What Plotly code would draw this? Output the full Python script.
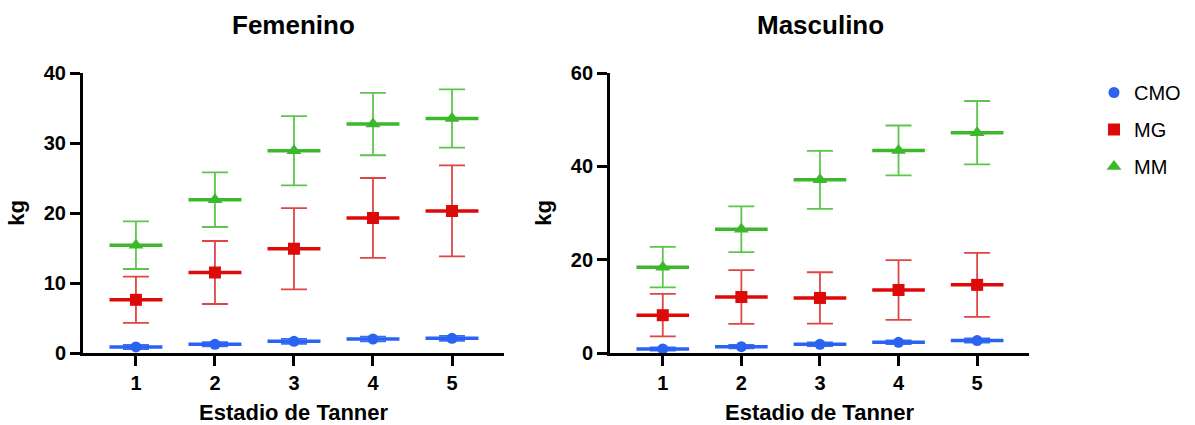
import plotly.graph_objects as go
from plotly.subplots import make_subplots

stages = [1, 2, 3, 4, 5]
series = ["CMO", "MG", "MM"]

# Femenino
fem_cmo = [0.86, 1.24, 1.67, 2.0, 2.1]
fem_cmo_sd = [0.3, 0.3, 0.35, 0.35, 0.35]
fem_mg = [7.6, 11.5, 14.9, 19.3, 20.3]
fem_mg_sd = [3.3, 4.5, 5.8, 5.7, 6.5]
fem_mm = [15.4, 21.9, 28.9, 32.7, 33.5]
fem_mm_sd = [3.4, 3.9, 4.95, 4.45, 4.15]

# Masculino
mas_cmo = [0.86, 1.36, 1.87, 2.3, 2.66]
mas_cmo_sd = [0.35, 0.35, 0.4, 0.4, 0.45]
mas_mg = [8.1, 12.0, 11.8, 13.5, 14.6]
mas_mg_sd = [4.55, 5.75, 5.5, 6.4, 6.85]
mas_mm = [18.4, 26.5, 37.1, 43.4, 47.2]
mas_mm_sd = [4.35, 4.9, 6.2, 5.35, 6.8]

colors = {"CMO": "#2A62F2", "MG": "#DD0A0A", "MM": "#3DB82C"}
bar_colors = {"CMO": "#3B6EF2", "MG": "#E04545", "MM": "#5CC64C"}
symbols = {"CMO": "circle", "MG": "square", "MM": "triangle-up"}
sizes = {"CMO": 11, "MG": 12, "MM": 13}

panels = [
    ("Femenino", {"CMO": (fem_cmo, fem_cmo_sd), "MG": (fem_mg, fem_mg_sd), "MM": (fem_mm, fem_mm_sd)}),
    ("Masculino", {"CMO": (mas_cmo, mas_cmo_sd), "MG": (mas_mg, mas_mg_sd), "MM": (mas_mm, mas_mm_sd)}),
]

fig = make_subplots(rows=1, cols=2, horizontal_spacing=0.112)

for col, (title, data) in enumerate(panels, start=1):
    for name in series:
        vals, sds = data[name]
        fig.add_trace(
            go.Scatter(
                x=stages, y=vals, mode="markers", name=name,
                legendgroup=name, showlegend=(col == 1),
                marker=dict(symbol=symbols[name], size=sizes[name], color=colors[name]),
                error_y=dict(type="data", array=sds, visible=True,
                             color=bar_colors[name], thickness=1.8, width=13),
                error_x=dict(type="constant", value=0.335, visible=True,
                             color=colors[name], thickness=3.5, width=0),
            ),
            row=1, col=col,
        )

font_family = "Liberation Sans, Arial, sans-serif"
axis_common = dict(
    showline=True, linecolor="black", linewidth=3,
    ticks="outside", ticklen=10, tickwidth=3, tickcolor="black",
    showgrid=False, zeroline=False, automargin=False,
    tickfont=dict(family=font_family, size=20, color="black", weight="bold"),
)

fig.update_xaxes(**axis_common, tickvals=stages, range=[0.33, 5.66],
                 title=dict(text="<b>Estadio de Tanner</b>",
                            font=dict(family=font_family, size=22, color="black"),
                            standoff=18))
fig.update_yaxes(**axis_common,
                 title=dict(text="<b>kg</b>",
                            font=dict(family=font_family, size=22, color="black"),
                            standoff=14))
fig.update_yaxes(range=[0, 40], tickvals=[0, 10, 20, 30, 40], row=1, col=1)
fig.update_yaxes(range=[0, 60], tickvals=[0, 20, 40, 60], row=1, col=2)

fig.layout.xaxis.domain = [0.0, 0.4452]
fig.layout.xaxis2.domain = [0.5572, 1.0]

for xc, title in [(293, "Femenino"), (820, "Masculino")]:
    fig.add_annotation(text="<b>" + title + "</b>", xref="paper", yref="paper",
                       x=(xc - 82.7) / 946.3, y=(400 - 72.3) / 280, xanchor="center", yanchor="middle",
                       showarrow=False, font=dict(family=font_family, size=26, color="black"))

fig.update_layout(
    width=1195, height=425,
    margin=dict(l=82.7, r=166, t=72.7, b=72.3, autoexpand=False),
    paper_bgcolor="white", plot_bgcolor="white",
    legend=dict(xref="container", yref="container", x=1094 / 1195, y=1 - 73 / 425,
                xanchor="left", yanchor="top", tracegroupgap=8,
                font=dict(family="Liberation Sans, Arial, sans-serif", size=20, color="black"),
                bgcolor="rgba(0,0,0,0)"),
)

fig.write_html("out.html")
